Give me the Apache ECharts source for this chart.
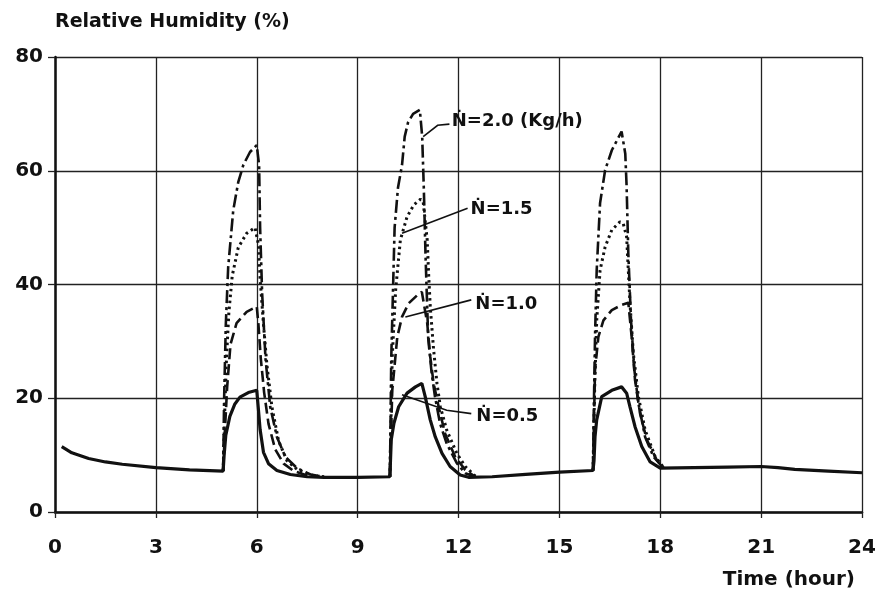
<!DOCTYPE html>
<html>
<head>
<meta charset="utf-8">
<script src="https://cdn.jsdelivr.net/npm/echarts@6/dist/echarts.min.js"></script>
<style>
  html, body { margin: 0; background: #fff; }
  #chart { width: 879px; height: 594px; }
</style>
</head>
<body>
<div id="chart"></div>
<script>
// time (hour), relative humidity (%)
const n05 = [
  [0.2, 11.5], [0.5, 10.4], [1.0, 9.4], [1.5, 8.8], [2, 8.4], [3, 7.8], [4, 7.4], [5.0, 7.2],
  [5.03, 10], [5.08, 13.5], [5.2, 16.8], [5.35, 19], [5.5, 20.2], [5.75, 21], [6.0, 21.4],
  [6.05, 18], [6.1, 14.5], [6.2, 10.5], [6.35, 8.5], [6.6, 7.3], [7.0, 6.6], [7.5, 6.2],
  [8, 6.1], [9, 6.1], [9.96, 6.2],
  [10.0, 12.7], [10.08, 15.6], [10.22, 18.5], [10.47, 20.9], [10.72, 22], [10.91, 22.6],
  [11.01, 20.3], [11.16, 16.2], [11.31, 13.2], [11.51, 10.3], [11.75, 8], [12.05, 6.5], [12.3, 6.1],
  [13, 6.2], [14, 6.6], [15, 7.0], [16.0, 7.3],
  [16.03, 9], [16.06, 13.2], [16.11, 16.2], [16.26, 20.3], [16.56, 21.4], [16.85, 22],
  [17.0, 20.9], [17.1, 18.5], [17.25, 15], [17.45, 11.5], [17.7, 8.8], [18.0, 7.7],
  [19, 7.8], [20, 7.9], [21, 8.0], [21.5, 7.8], [22, 7.5], [23, 7.2], [24, 6.9]
];

const n10 = [
  [[5.0, 7.2], [5.05, 14], [5.12, 22], [5.22, 29.5], [5.4, 33.2], [5.7, 35.2], [6.0, 36.1],
   [6.05, 33], [6.12, 27], [6.22, 21], [6.35, 15.5], [6.55, 11], [6.8, 8.5], [7.1, 7.2], [7.5, 6.4]],
  [[9.96, 6.2], [10.03, 21.4], [10.18, 30.8], [10.32, 34.3], [10.52, 36.7], [10.77, 38.1], [10.91, 38.7],
   [11.07, 33.2], [11.16, 27.3], [11.26, 22.6], [11.41, 18.5], [11.6, 13.8], [11.9, 9.7], [12.2, 7.4], [12.5, 6.2]],
  [[16.0, 7.3], [16.06, 25], [16.16, 30.8], [16.31, 33.7], [16.56, 35.5], [16.85, 36.4], [17.05, 36.8],
   [17.15, 30.8], [17.25, 23.2], [17.4, 17.3], [17.6, 12.7], [17.9, 9.1], [18.1, 7.8]]
];

const n15 = [
  [[5.0, 7.2], [5.05, 18], [5.1, 27], [5.17, 35], [5.27, 41.5], [5.45, 46.5], [5.7, 49], [5.95, 50],
   [6.05, 47], [6.1, 41], [6.2, 33], [6.3, 26], [6.45, 18.5], [6.65, 12.5], [6.9, 9], [7.2, 7.5], [7.6, 6.5], [8.0, 6.2]],
  [[9.96, 6.2], [10.03, 27.3], [10.13, 39], [10.27, 47.8], [10.47, 51.9], [10.67, 54], [10.87, 55], [10.95, 54.5],
   [11.07, 47.8], [11.11, 42], [11.16, 36.1], [11.26, 28.5], [11.36, 22.6], [11.46, 18.5], [11.65, 14.4],
   [11.95, 10.3], [12.2, 8], [12.5, 6.3]],
  [[16.0, 7.3], [16.05, 22], [16.11, 33.7], [16.21, 42.5], [16.36, 46.6], [16.56, 49.6], [16.8, 51], [16.9, 50.7],
   [17.0, 48.4], [17.05, 42.5], [17.1, 36.7], [17.2, 27.9], [17.35, 20.3], [17.55, 14.4], [17.85, 9.7], [18.1, 7.8]]
];

const n20 = [
  [[5.0, 7.2], [5.03, 20], [5.08, 33], [5.15, 43], [5.3, 53], [5.45, 58], [5.6, 61], [5.8, 63.3], [6.0, 64.5],
   [6.07, 61], [6.1, 50], [6.16, 38.5], [6.26, 27], [6.4, 18.5], [6.6, 13.2], [6.85, 9.7], [7.2, 7.7], [7.6, 6.6], [8.0, 6.2]],
  [[9.96, 6.2], [10.0, 27], [10.1, 50], [10.2, 57], [10.32, 61], [10.4, 66], [10.5, 68.5], [10.65, 70], [10.85, 70.7],
   [10.92, 66], [10.97, 56.6], [11.02, 45], [11.1, 30.5], [11.2, 24.5], [11.3, 20.3], [11.45, 15.6], [11.65, 12],
   [11.95, 8.6], [12.2, 6.8], [12.5, 6.2]],
  [[16.0, 7.3], [16.03, 20], [16.06, 30.8], [16.11, 42.5], [16.21, 54.3], [16.36, 60.1], [16.56, 63.6], [16.85, 66.9],
   [16.96, 63], [17.0, 57.2], [17.05, 45.5], [17.13, 33.7], [17.23, 25], [17.35, 19.1], [17.55, 13.2], [17.8, 9.7], [18.05, 8]]
];

const xTicks = [0, 3, 6, 9, 12, 15, 18, 21, 24];
const yTicks = [0, 20, 40, 60, 80];

// curve labels: text anchor and leader line, in data coordinates
const curveLabels = [
  { text: 'Ṅ=2.0 (Kg/h)', at: [11.8, 68.7], leader: [[11.73, 68.2], [11.38, 68.0], [10.95, 66.0]] },
  { text: 'Ṅ=1.5', at: [12.36, 53.3], leader: [[12.27, 53.4], [10.32, 49.0]] },
  { text: 'Ṅ=1.0', at: [12.5, 36.6], leader: [[12.38, 37.3], [10.42, 34.3]] },
  { text: 'Ṅ=0.5', at: [12.53, 16.8], leader: [[12.38, 17.3], [11.65, 17.9], [10.32, 20.6]] }
];

const font = 'DejaVu Sans';
const ink = '#111';

const chart = echarts.init(document.getElementById('chart'));

const dashed = (name, peaks, style, z) => peaks.map((pts, i) => ({
  name: name,
  id: name + '-' + i,
  type: 'line',
  data: pts,
  showSymbol: false,
  z: z,
  lineStyle: Object.assign({ color: ink }, style)
}));

const option = {
  animation: false,
  grid: { left: 55, right: 17, top: 57, bottom: 82 },
  xAxis: {
    type: 'value',
    min: 0,
    max: 24,
    interval: 3,
    axisLine: { lineStyle: { color: ink, width: 2.5 } },
    axisTick: { show: true, length: 6, lineStyle: { color: '#222', width: 1.3 } },
    axisLabel: {
      fontFamily: font, fontSize: 20, fontWeight: 'bold', color: ink, margin: 26,
      formatter: v => xTicks.includes(v) ? String(v) : ''
    },
    splitLine: { show: true, lineStyle: { color: '#222', width: 1.3 } }
  },
  yAxis: {
    type: 'value',
    min: 0,
    max: 80,
    interval: 20,
    name: 'Relative Humidity (%)',
    nameLocation: 'end',
    nameGap: 35,
    nameTextStyle: {
      fontFamily: font, fontSize: 19, fontWeight: 'bold', color: ink,
      align: 'left', verticalAlign: 'middle'
    },
    axisLine: { show: true, lineStyle: { color: ink, width: 2.5 } },
    axisTick: { show: true, length: 7, lineStyle: { color: '#222', width: 1.3 } },
    axisLabel: {
      fontFamily: font, fontSize: 20, fontWeight: 'bold', color: ink, margin: 12,
      formatter: v => yTicks.includes(v) ? String(v) : ''
    },
    splitLine: { show: true, lineStyle: { color: '#222', width: 1.3 } }
  },
  graphic: [{
    type: 'text',
    right: 24,
    bottom: 4,
    style: { text: 'Time (hour)', fontFamily: font, fontSize: 20, fontWeight: 'bold', fill: ink }
  }],
  series: [
    ...dashed('N=2.0', n20, { width: 2.6, type: [13, 4, 3, 4] }, 3),
    ...dashed('N=1.5', n15, { width: 3, type: [2.5, 3.5] }, 3),
    ...dashed('N=1.0', n10, { width: 2.6, type: [11, 5] }, 3),
    {
      name: 'N=0.5',
      type: 'line',
      data: n05,
      showSymbol: false,
      z: 4,
      lineStyle: { color: ink, width: 3.2 }
    }
  ]
};

chart.setOption(option);

const px = p => chart.convertToPixel({ gridIndex: 0 }, p);
const graphics = [];
curveLabels.forEach(l => {
  const a = px(l.at);
  graphics.push({
    type: 'text',
    x: a[0],
    y: a[1],
    z: 10,
    style: {
      text: l.text,
      fontFamily: font,
      fontSize: 18,
      fontWeight: 'bold',
      fill: ink,
      align: 'left',
      verticalAlign: 'middle',
      textAlign: 'left',
      textVerticalAlign: 'middle'
    }
  });
  graphics.push({
    type: 'polyline',
    z: 10,
    shape: { points: l.leader.map(px) },
    style: { stroke: ink, lineWidth: 1.6, fill: null }
  });
});
chart.setOption({ graphic: option.graphic.concat(graphics) });
</script>
</body>
</html>
